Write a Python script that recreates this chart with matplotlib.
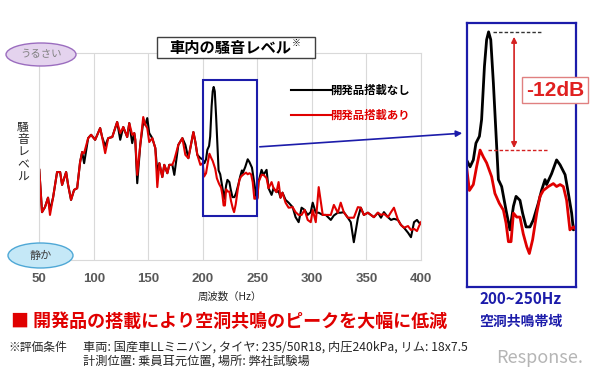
import matplotlib.pyplot as plt
from matplotlib.patches import Ellipse, Rectangle, FancyArrowPatch
from matplotlib.lines import Line2D
import numpy as np

plt.rcParams['font.family'] = ['Noto Sans CJK JP', 'DejaVu Sans']

# Noise level (dB, relative), 50-200 Hz
freq_lo = [50, 52.5, 55.2, 58.0, 59.8, 62.6, 66.3, 69.1, 70.9, 74.6, 76.4, 79.1, 81.9, 84.7,
           87.4, 89.3, 91.1, 94.8, 97.5, 101.2, 105.8, 107.6, 110.4, 113.2, 116.9, 121.4,
           124.2, 127.0, 130.6, 132.5, 135.2, 137.1, 138.0, 139.8, 142.6, 145.3, 147.2, 149.0,
           150.8, 153.6, 156.4, 158.2, 160.1, 162.8, 164.6, 167.4, 169.2, 172.0, 173.8, 177.5,
           181.2, 183.9, 186.7, 191.3, 193.1, 194.9, 197.7]
black_lo = [16.2, 8.6, 9.5, 11.2, 9.0, 11.2, 15.8, 15.8, 13.5, 15.8, 13.5, 10.8, 12.6, 12.9,
            17.6, 19.4, 17.4, 21.9, 22.5, 21.6, 23.7, 22.1, 20.5, 21.9, 22.1, 24.8,
            21.6, 23.9, 22.1, 24.6, 21.0, 22.8, 21.6, 13.8, 20.7, 24.8, 24.3, 25.5,
            22.8, 21.9, 20.1, 15.8, 17.4, 14.9, 17.1, 15.6, 17.1, 17.1, 15.3, 20.7,
            21.9, 20.7, 18.3, 23.0, 21.2, 18.9, 18.3]
red_lo = [16.2, 8.6, 9.5, 11.2, 8.1, 11.2, 15.8, 15.8, 13.5, 15.8, 13.5, 10.8, 12.6, 12.9,
          17.6, 19.4, 19.2, 21.9, 22.5, 21.6, 23.7, 22.1, 19.2, 21.9, 22.1, 24.8,
          22.8, 23.9, 22.1, 24.6, 22.5, 22.8, 21.6, 15.3, 20.7, 25.7, 24.3, 23.7,
          21.2, 21.9, 20.1, 13.1, 17.4, 14.9, 17.1, 15.6, 17.1, 17.1, 18.0, 20.7,
          21.9, 18.9, 18.3, 23.0, 21.2, 18.9, 17.1]

# 200-250 Hz (cavity resonance band), read from the enlarged view
black_mid_hz = [199.8, 201.4, 202.9, 204.1, 205.7, 206.7, 208.0, 209.0, 209.9, 210.9, 212.1,
                213.3, 214.4, 215.9, 217.9, 219.7, 221.3, 222.5, 224.3, 225.5, 227.1, 228.9,
                230.4, 232.7, 234.2, 235.8, 236.5, 238.8, 241.1, 242.7, 245.0, 246.5, 248.0,
                248.8, 250.0]
black_mid_db = [18.1, 17.4, 18.1, 19.8, 20.5, 22.2, 27.6, 30.3, 31.1, 30.3, 25.9,
                20.8, 16.1, 15.4, 13.0, 11.0, 13.4, 14.4, 14.0, 12.7, 11.3, 11.3,
                12.0, 13.7, 15.0, 16.1, 15.6, 16.7, 18.1, 17.6, 16.6, 14.7, 12.7,
                11.0, 11.2]
red_mid_hz = [199.8, 201.1, 202.9, 204.4, 206.0, 207.5, 209.0, 211.3, 212.8, 214.8, 216.7,
              217.9, 219.0, 220.2, 221.3, 222.8, 224.3, 225.8, 227.4, 228.6, 230.1, 232.0,
              233.5, 235.0, 237.3, 239.6, 241.1, 242.7, 244.2, 245.7, 247.2, 248.8, 250.0]
red_mid_db = [17.4, 15.0, 15.6, 17.4, 19.1, 18.4, 17.8, 16.4, 14.7, 13.7, 13.0,
              11.7, 9.8, 9.8, 12.7, 12.3, 12.3, 10.6, 9.3, 8.6, 10.0, 12.7,
              14.4, 15.0, 15.4, 15.7, 15.4, 15.6, 15.4, 14.0, 11.0, 11.3, 11.0]

# 250-400 Hz
freq_hi = [251.0, 253.8, 255.6, 258.4, 260.2, 263.0, 264.8, 267.5, 269.4, 271.2, 273.0, 275.8,
           278.6, 282.3, 285.0, 287.8, 290.5, 293.3, 296.1, 298.9, 300.7, 303.5, 306.2, 309.9,
           312.7, 317.3, 320.1, 323.7, 326.4, 329.2, 332.9, 335.6, 338.4, 342.1, 344.8, 347.6,
           351.3, 354.1, 356.8, 360.5, 363.3, 366.0, 369.7, 372.5, 375.2, 378.9, 381.6, 384.4,
           388.1, 390.8, 393.6, 396.3, 398.2, 400]
black_hi = [14.0, 16.2, 15.3, 16.2, 12.9, 11.7, 12.9, 12.2, 12.4, 11.2, 12.1, 10.8,
            10.3, 9.5, 7.7, 6.8, 9.4, 9.0, 8.1, 8.6, 10.3, 8.5, 8.5, 8.1,
            8.1, 7.2, 8.0, 8.5, 8.5, 8.6, 7.6, 6.8, 3.2, 7.5, 9.4, 8.1,
            8.5, 8.1, 7.7, 8.5, 7.6, 8.6, 7.7, 7.2, 7.4, 7.2, 6.3, 5.8,
            4.9, 4.1, 6.8, 7.2, 6.7, 6.5]
red_hi = [14.0, 15.3, 15.3, 14.7, 12.9, 14.0, 12.9, 12.2, 14.0, 11.2, 12.1, 10.3,
          9.4, 9.5, 8.6, 8.1, 8.1, 9.0, 7.2, 6.8, 9.0, 6.8, 13.1, 8.1,
          8.1, 8.1, 9.9, 8.5, 10.3, 8.6, 7.6, 7.6, 7.6, 9.5, 9.4, 8.1,
          8.5, 8.1, 7.7, 8.5, 8.1, 8.3, 7.7, 8.6, 9.4, 7.2, 6.3, 5.8,
          6.1, 5.4, 5.6, 5.2, 6.1, 6.8]

ticks = [50, 100, 150, 200, 250, 300, 350, 400]
band = (200, 250)

black_hz = np.concatenate([freq_lo, black_mid_hz, freq_hi])
black_db = np.concatenate([black_lo, black_mid_db, black_hi])
red_hz = np.concatenate([freq_lo, red_mid_hz, freq_hi])
red_db = np.concatenate([red_lo, red_mid_db, red_hi])

BLACK = '#000000'
RED = '#e00000'
BLUE = '#1c1caa'

# figure in pixel terms (600 x 376)
W, H = 600, 376
def fx(x):
    return x / W
def fy(y):
    return 1 - y / H

fig = plt.figure(figsize=(6, 3.76), dpi=100)

# Main chart
ax = fig.add_axes([fx(39.3), fy(260), (421 - 39.3) / W, (260 - 53) / H])
ax.plot(black_hz, black_db, color=BLACK, lw=1.5)
ax.plot(red_hz, red_db, color=RED, lw=1.5)
ax.set_xlim(50, 400)
ax.set_ylim(0, 37.2)
ax.set_yticks([])
ax.set_xticks(ticks)
ax.set_xticklabels([str(t) for t in ticks], fontfamily='Liberation Sans',
                   fontweight='bold', fontsize=9.5, color='#595959')
ax.tick_params(axis='x', length=0, pad=9.5)
ax.grid(axis='x', color='#d9d9d9', lw=0.8)
for s in ax.spines.values():
    s.set_color('#d9d9d9')
    s.set_linewidth(0.8)

ax.add_patch(Rectangle((band[0], 7.9), band[1] - band[0], 24.5, fill=False,
                       ec=BLUE, lw=1.5, zorder=5))

fig.text(fx(230), fy(297), '周波数（Hz）', fontsize=7.5, ha='center', va='center',
         color='#262626')
fig.text(fx(23), fy(152), '\n'.join('騒音レベル'), fontsize=8.5, ha='center',
         va='center', linespacing=0.95, color='#262626')

# Title box
fig.patches.append(Rectangle((fx(157), fy(58)), 158 / W, 21 / H, transform=fig.transFigure,
                             fc='white', ec='#404040', lw=1, zorder=2))
fig.text(fx(230), fy(47.5), '車内の騒音レベル', fontsize=11, fontweight='bold',
         ha='center', va='center', zorder=3)
fig.text(fx(296), fy(43), '※', fontsize=6.5, ha='center', va='center', zorder=3)

# Loud / quiet markers
fig.patches.append(Ellipse((fx(41), fy(54.5)), 70 / W, 23 / H, transform=fig.transFigure,
                           fc='#e4d3ee', ec='#9b6dbf', lw=1, zorder=2))
fig.text(fx(41), fy(54.5), 'うるさい', fontsize=7.5, ha='center', va='center',
         color='#808080', zorder=3)
fig.patches.append(Ellipse((fx(40.5), fy(255.5)), 65 / W, 25 / H, transform=fig.transFigure,
                           fc='#c5e8f7', ec='#4fa8d6', lw=1, zorder=2))
fig.text(fx(40.5), fy(255.5), '静か', fontsize=8, ha='center', va='center',
         color='#404040', zorder=3)

# Legend
fig.lines.append(Line2D([fx(291), fx(331)], [fy(90), fy(90)], transform=fig.transFigure,
                        color=BLACK, lw=1.5))
fig.text(fx(330), fy(90), '開発品搭載なし', fontsize=8.2, fontweight='bold',
         ha='left', va='center', color=BLACK)
fig.lines.append(Line2D([fx(291), fx(331)], [fy(115), fy(115)], transform=fig.transFigure,
                        color=RED, lw=1.5))
fig.text(fx(330), fy(115), '開発品搭載あり', fontsize=8.2, fontweight='bold',
         ha='left', va='center', color=RED)

# Connector to enlarged view
fig.patches.append(FancyArrowPatch((fx(257), fy(147)), (fx(465), fy(133)),
                                   transform=fig.transFigure, arrowstyle='-|>',
                                   mutation_scale=9, color=BLUE, lw=1.2))

# Enlarged view 200-250 Hz
ax2 = fig.add_axes([fx(467), fy(287), 109 / W, 264 / H])
ax2.plot(black_hz, black_db, color=BLACK, lw=2)
ax2.plot(red_hz, red_db, color=RED, lw=2)
ax2.set_xlim(*band)
ax2.set_ylim(5.2, 32.0)
ax2.set_xticks([])
ax2.set_yticks([])
for s in ax2.spines.values():
    s.set_color(BLUE)
    s.set_linewidth(1.6)

pk_b = max(black_mid_db)
pk_r = max(red_mid_db)
ax2.plot([212, 235], [pk_b, pk_b], ls=(0, (2.5, 1.5)), color='#333333', lw=1)
ax2.plot([209.8, 237.3], [pk_r, pk_r], ls=(0, (2.5, 1.5)), color='#d42020', lw=1)
ax2.annotate('', xy=(221.6, pk_r + 0.2), xytext=(221.6, pk_b - 0.5),
             arrowprops=dict(arrowstyle='<|-|>', color='#d42020', lw=1.2,
                             mutation_scale=8, shrinkA=0, shrinkB=0))

fig.text(fx(555), fy(90), f'{pk_r - pk_b:.0f}dB', fontsize=15, fontweight='bold',
         color='#e02020', fontfamily='Liberation Sans', ha='center', va='center',
         bbox=dict(boxstyle='square,pad=0.18', fc='white', ec='#e08080', lw=1), zorder=5)

fig.text(fx(521), fy(299), '200~250Hz', fontsize=11, fontweight='bold', color=BLUE,
         ha='center', va='center')
fig.text(fx(521), fy(322), '空洞共鳴帯域', fontsize=10, fontweight='bold', color=BLUE,
         ha='center', va='center')

# Bottom notes
fig.text(fx(11), fy(321), '■ 開発品の搭載により空洞共鳴のピークを大幅に低減', fontsize=13,
         fontweight='bold', color='#e00000', ha='left', va='center')
fig.text(fx(8), fy(347), '※評価条件', fontsize=8.5, ha='left', va='center', color='#262626')
fig.text(fx(83), fy(347), '車両: 国産車LLミニバン, タイヤ: 235/50R18, 内圧240kPa, リム: 18x7.5',
         fontsize=8.8, ha='left', va='center', color='#262626')
fig.text(fx(83), fy(361), '計測位置: 乗員耳元位置, 場所: 弊社試験場', fontsize=8.8,
         ha='left', va='center', color='#262626')
fig.text(fx(540), fy(358), 'Response.', fontsize=13, ha='center', va='center',
         color='#b5b5b5', zorder=0)

fig.savefig('out.png', dpi=100)
